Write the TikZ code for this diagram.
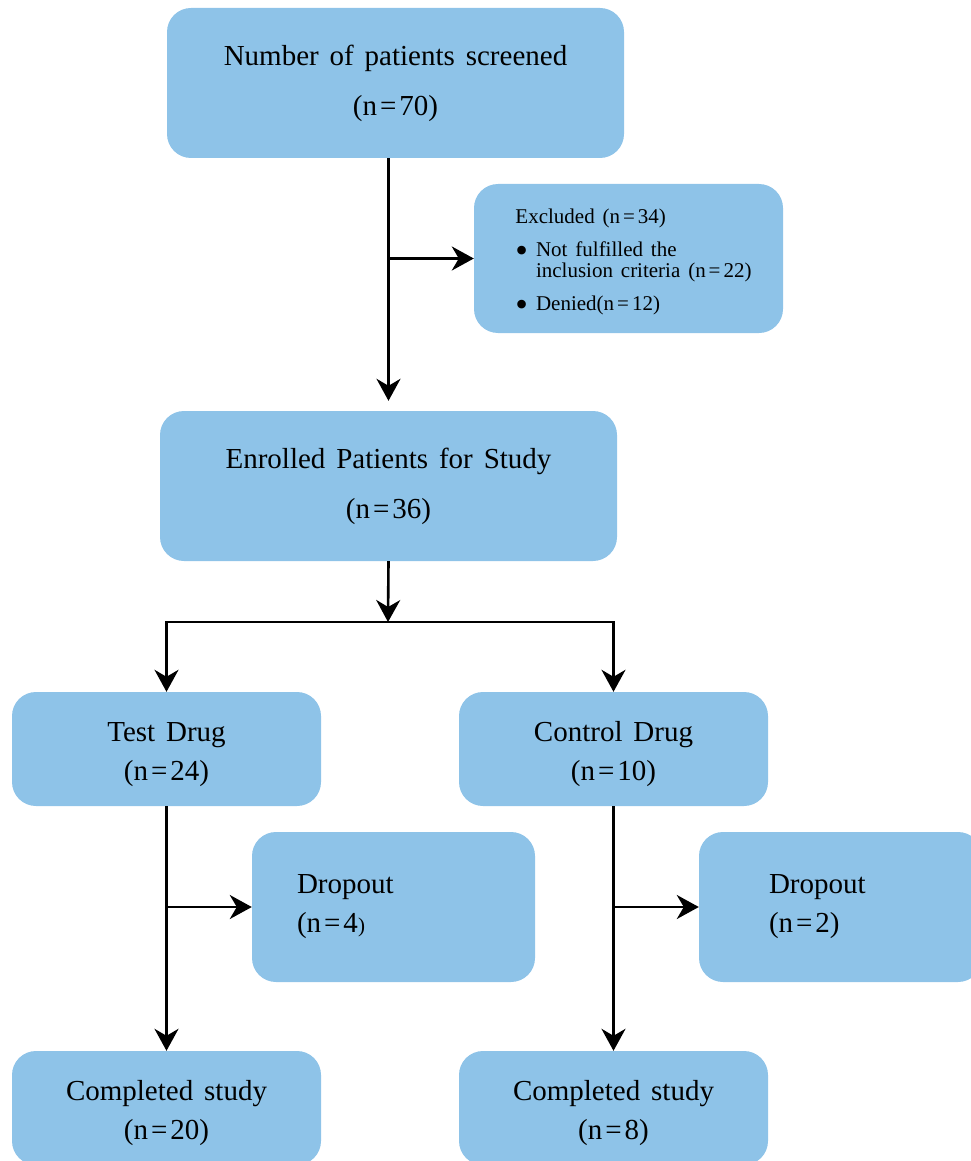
\documentclass[tikz,border=0pt]{standalone}
\usepackage{fontspec}
\setmainfont{Liberation Serif}[WordSpace=1.5]
\usetikzlibrary{arrows.meta}
\definecolor{boxblue}{RGB}{142,195,232}
\newcommand{\eqs}{\kern3pt=\kern3pt}
\newcommand{\tp}{\rule{0pt}{30pt}}
\newcommand{\bigbul}{\raisebox{-6pt}{\fontsize{36}{20}\selectfont\textbullet}}
\begin{document}
\begin{tikzpicture}[x=1pt,y=-1pt,
  box/.style={fill=boxblue, draw=none, rounded corners=24pt, inner sep=0pt,
    align=center, font=\fontsize{29}{39}\selectfont},
  arr/.style={line width=2.6pt, -{Stealth[length=22pt,width=24pt,inset=7pt]}},
  arrboth/.style={line width=2.6pt, {Stealth[length=22pt,width=24pt,inset=7pt]}-{Stealth[length=22pt,width=24pt,inset=7pt]}},
  ln/.style={line width=2.6pt}]
\useasboundingbox (0,0) rectangle (971,1161);

\node[box, minimum width=457pt, minimum height=150pt] (top) at (395.5,83)
  {Number of patients screened\\[11pt](n\eqs70)};
\node[box, minimum width=309pt, minimum height=149pt] (exc) at (628.5,258.5)
  {\hspace{10pt}\fontsize{21}{20.7}\selectfont
   \begin{tabular}{@{}l@{\hspace{8pt}}l@{}}
   \multicolumn{2}{@{}l@{}}{\rule{0pt}{22.5pt}Excluded (n\eqs34)}\\[12.3pt]
   \bigbul & Not fulfilled the\\
               & inclusion criteria (n\eqs22)\\[12.3pt]
   \bigbul & Denied(n\eqs12)
   \end{tabular}};
\node[box, minimum width=457pt, minimum height=150pt] (enr) at (388.5,486)
  {Enrolled Patients for Study\\[11pt](n\eqs36)};
\node[box, minimum width=309pt, minimum height=114pt] (test) at (166.5,749)
  {\tp Test Drug\\(n\eqs24)};
\node[box, minimum width=309pt, minimum height=114pt] (ctrl) at (613.5,749)
  {\tp Control Drug\\(n\eqs10)};
\node[box, align=left, inner xsep=45pt, text width=193pt, minimum height=150pt] (drop1) at (393.5,907)
  {Dropout\\(n\eqs4{\fontsize{21}{21}\selectfont)}};
\node[box, align=left, inner xsep=70pt, text width=143pt, minimum height=150pt] (drop2) at (840.5,907)
  {Dropout\\(n\eqs2)};
\node[box, minimum width=309pt, minimum height=114pt] (comp1) at (166.5,1108)
  {\tp Completed study\\(n\eqs20)};
\node[box, minimum width=309pt, minimum height=114pt] (comp2) at (613.5,1108)
  {\tp Completed study\\(n\eqs8)};

\coordinate (j) at (388,622);

\draw[arr, shorten >=10pt] (enr.north |- top.south) -- (enr.north);
\draw[arr] (exc.west -| enr.north) -- (exc.west);
\draw[arr] (enr.south) -- (j);
\draw[arrboth] (test.north) -- (test.north |- j) -- (ctrl.north |- j) -- (ctrl.north);
\draw[arr] (test.south) -- (comp1.north);
\draw[arr] (test.south |- drop1.west) -- (drop1.west);
\draw[arr] (ctrl.south) -- (comp2.north);
\draw[arr] (ctrl.south |- drop2.west) -- (drop2.west);
\end{tikzpicture}
\end{document}
